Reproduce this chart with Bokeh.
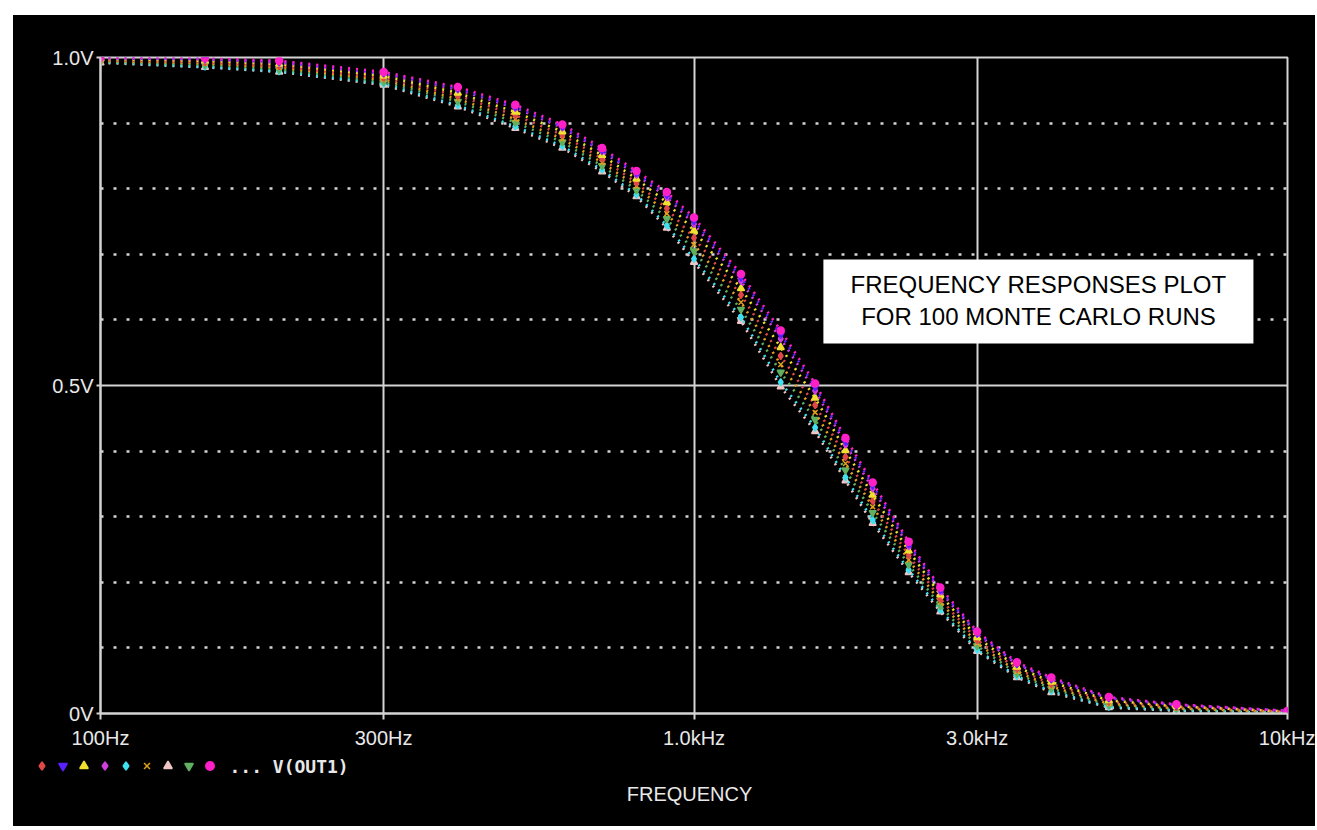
from bokeh.plotting import figure
from bokeh.models import (FixedTicker, Grid, BoxAnnotation, Label, Legend,
                          LegendItem, Range1d, Spacer)
from bokeh.layouts import row, column
from bokeh.embed import file_html
from bokeh.resources import INLINE

# ---------------- data ----------------
freq_hz = [100, 150, 200, 300, 400, 500, 600, 700, 800, 900, 1000, 1200,
           1400, 1600, 1800, 2000, 2300, 2600, 3000, 3500, 4000, 5000, 6500, 10000]

run_lower = [0.992, 0.985, 0.978, 0.958, 0.925, 0.892, 0.862, 0.826, 0.788, 0.740, 0.688, 0.598,
             0.498, 0.430, 0.355, 0.290, 0.215, 0.155, 0.095, 0.055, 0.032, 0.009, 0.004, 0.001]
run_b = [0.993, 0.986, 0.979, 0.960, 0.927, 0.895, 0.865, 0.829, 0.791, 0.744, 0.693, 0.604,
         0.505, 0.436, 0.360, 0.295, 0.219, 0.158, 0.097, 0.057, 0.034, 0.010, 0.005, 0.001]
run_c = [0.994, 0.989, 0.982, 0.963, 0.933, 0.901, 0.871, 0.835, 0.798, 0.754, 0.705, 0.616,
         0.520, 0.448, 0.371, 0.306, 0.227, 0.164, 0.103, 0.061, 0.038, 0.013, 0.007, 0.002]
run_d = [0.995, 0.991, 0.985, 0.966, 0.937, 0.906, 0.876, 0.840, 0.804, 0.762, 0.715, 0.627,
         0.532, 0.459, 0.381, 0.315, 0.234, 0.170, 0.107, 0.064, 0.041, 0.015, 0.008, 0.002]
run_e = [0.996, 0.993, 0.987, 0.969, 0.942, 0.912, 0.882, 0.846, 0.809, 0.770, 0.725, 0.638,
         0.545, 0.470, 0.391, 0.324, 0.241, 0.175, 0.112, 0.068, 0.045, 0.018, 0.010, 0.003]
run_f = [0.998, 0.995, 0.990, 0.972, 0.946, 0.917, 0.887, 0.851, 0.815, 0.779, 0.736, 0.648,
         0.558, 0.481, 0.401, 0.333, 0.248, 0.181, 0.116, 0.071, 0.048, 0.020, 0.011, 0.003]
run_g = [0.999, 0.997, 0.992, 0.975, 0.951, 0.923, 0.893, 0.857, 0.821, 0.787, 0.746, 0.659,
         0.571, 0.492, 0.410, 0.343, 0.255, 0.186, 0.121, 0.075, 0.052, 0.023, 0.013, 0.004]
run_h = [0.999, 0.998, 0.994, 0.977, 0.953, 0.925, 0.895, 0.859, 0.824, 0.791, 0.751, 0.665,
         0.578, 0.498, 0.415, 0.348, 0.259, 0.189, 0.123, 0.076, 0.053, 0.024, 0.013, 0.004]
run_upper = [1.000, 0.999, 0.995, 0.978, 0.955, 0.928, 0.898, 0.862, 0.827, 0.795, 0.756, 0.670,
             0.584, 0.503, 0.420, 0.352, 0.262, 0.192, 0.125, 0.078, 0.055, 0.025, 0.014, 0.004]

x_ticks = [100, 300, 1000, 3000, 10000]
x_tick_labels = ["100Hz", "300Hz", "1.0kHz", "3.0kHz", "10kHz"]
y_ticks = [0.0, 0.5, 1.0]
y_tick_labels = ["0V", "0.5V", "1.0V"]
y_dotted = [0.1, 0.2, 0.3, 0.4, 0.6, 0.7, 0.8, 0.9]

x_title = "FREQUENCY"
note_text = "FREQUENCY RESPONSES PLOT\nFOR 100 MONTE CARLO RUNS"
trace_name = "... V(OUT1)"

# series styles: (values, color, marker)
series = {
    "red":     (run_e, "#e04848", "diamond"),
    "blue":    (run_h, "#5a20ff", "inverted_triangle"),
    "yellow":  (run_f, "#f0e030", "triangle"),
    "magenta": (run_g, "#d040e0", "diamond"),
    "cyan":    (run_b, "#40e0f0", "diamond"),
    "orange":  (run_d, "#e0a020", "x"),
    "pink":    (run_lower, "#eec4c4", "triangle"),
    "green":   (run_c, "#60b060", "inverted_triangle"),
    "hotpink": (run_upper, "#ff20c8", "circle"),
}
legend_order = ["red", "blue", "yellow", "magenta", "cyan", "orange", "pink", "green", "hotpink"]
draw_order = ["pink", "cyan", "green", "orange", "red", "yellow", "magenta", "blue", "hotpink"]

FONT = "Liberation Sans"
GRID = "#d4d4d4"
TEXT = "#e8e8e8"
W = 1302


def add_markers(fig, key, **kw):
    vals, col, mk = series[key]
    return fig.scatter(freq_hz, vals, marker=mk, size=7, line_color=col,
                       fill_color=col, line_width=1.5, **kw)


# ---------------- main plot ----------------
p = figure(width=W, height=738, x_axis_type="log",
           x_range=Range1d(100, 10000), y_range=Range1d(0, 1.0),
           output_backend="svg", toolbar_location=None,
           min_border_left=87, min_border_right=28, min_border_top=42, min_border_bottom=40)
p.background_fill_color = "black"
p.border_fill_color = "black"
p.outline_line_color = GRID
p.outline_line_width = 2

p.xaxis.ticker = FixedTicker(ticks=x_ticks, minor_ticks=[])
p.xaxis.major_label_overrides = {t: l for t, l in zip(x_ticks, x_tick_labels)}
p.yaxis.ticker = FixedTicker(ticks=y_ticks, minor_ticks=[])
p.yaxis.major_label_overrides = {t: l for t, l in zip(y_ticks, y_tick_labels)}
for ax in (p.xaxis[0], p.yaxis[0]):
    ax.axis_line_color = GRID
    ax.axis_line_width = 2
    ax.major_tick_line_color = GRID
    ax.major_tick_line_width = 2
    ax.major_tick_in = 0
    ax.minor_tick_line_color = None
    ax.major_label_text_font = FONT
    ax.major_label_text_font_size = "20px"
    ax.major_label_text_color = TEXT
p.xaxis.major_tick_out = 6
p.xaxis.major_label_standoff = 7
p.yaxis.major_tick_out = 4
p.yaxis.major_label_standoff = 3

p.xgrid.ticker = FixedTicker(ticks=x_ticks[1:-1])
p.xgrid.grid_line_color = GRID
p.xgrid.grid_line_width = 2
p.ygrid.ticker = FixedTicker(ticks=[0.5])
p.ygrid.grid_line_color = GRID
p.ygrid.grid_line_width = 2
p.add_layout(Grid(dimension=1, ticker=FixedTicker(ticks=y_dotted),
                  grid_line_color=GRID, grid_line_width=2.5, grid_line_dash="3 10"))

for key in draw_order:
    vals, col, mk = series[key]
    p.line(freq_hz, vals, line_color=col, line_width=2.6, line_dash="2 6")
    add_markers(p, key)

p.add_layout(BoxAnnotation(left=1652, right=8762, bottom=0.564, top=0.692,
                           fill_color="white", fill_alpha=1.0, line_color=None))
p.add_layout(Label(x=3806, y=0.6296, text=note_text, text_align="center",
                   text_baseline="middle", text_font=FONT, text_font_size="24px",
                   text_color="black", text_line_height=1.2))

# ---------------- strip under the axis: trace legend + axis title ----------------
q = figure(width=W, height=73, x_axis_type="log",
           x_range=Range1d(100, 10000), y_range=Range1d(0, 1.0),
           x_axis_location=None, y_axis_location=None,
           output_backend="svg", toolbar_location=None, min_border=0)
q.background_fill_color = "black"
q.border_fill_color = "black"
q.outline_line_color = None
q.xgrid.visible = False
q.ygrid.visible = False

legend_renderers = {k: add_markers(q, k, visible=False) for k in legend_order}
q.add_layout(Legend(
    items=[LegendItem(label="", renderers=[legend_renderers[k]]) for k in legend_order],
    location=(18, 49), orientation="horizontal",
    glyph_width=21, glyph_height=23, spacing=0, label_standoff=0,
    label_width=0, label_height=23, padding=0, margin=0,
    border_line_color=None, background_fill_alpha=0))
q.add_layout(Label(x=216, y=60, x_units="screen", y_units="screen", text=trace_name,
                   text_align="left", text_baseline="middle", text_font="DejaVu Sans Mono",
                   text_font_style="bold", text_font_size="18px", text_color=TEXT))
q.add_layout(Label(x=676, y=33, x_units="screen", y_units="screen", text=x_title,
                   text_align="center", text_baseline="middle", text_font=FONT,
                   text_font_size="20px", text_color=TEXT))

panel = column(row(p), row(q), styles={"background-color": "black"})
layout = column(Spacer(height=15), row(Spacer(width=13), panel))
open("out.html", "w").write(file_html(layout, INLINE))
